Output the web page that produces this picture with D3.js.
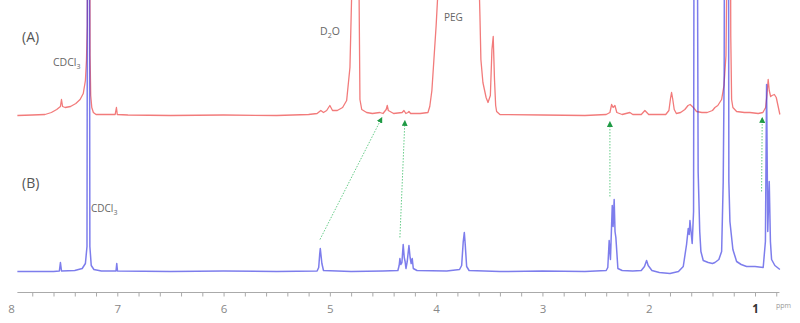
<!DOCTYPE html>
<html lang="en">
<head>
<meta charset="UTF-8">
<title>NMR</title>
<script src="https://d3js.org/d3.v7.min.js"></script>
<style>
    body { margin: 0; background: #fff; }
    svg { display: block; }
    .lbl { font-family: "Open Sans", sans-serif; fill: #666; }
    .axis text { font-family: "Open Sans", sans-serif; font-size: 11.5px; fill: #888; }
</style>
</head>
<body>
<script>
    // spectrum A (red): [ppm, intensity above baseline]
    var specA = [
        [7.94,0],[7.80,0.5],[7.68,1],[7.62,3],[7.57,6],[7.535,9],[7.525,16],[7.515,9],[7.49,8],
        [7.44,9],[7.39,12],[7.35,16],[7.32,22],[7.30,35],[7.29,55],[7.282,90],[7.276,400],
        [7.262,400],[7.256,60],[7.25,20],[7.24,8],[7.225,3],[7.20,1],[7.02,1],[7.008,8],[7.0,1],
        [6.90,0.5],[6.50,0],[6.00,0.5],[5.50,0],[5.20,1],[5.12,2],[5.085,5],[5.06,3],[5.03,5],
        [5.00,10],[4.975,5],[4.93,5],[4.88,8],[4.842,15],[4.811,48],[4.795,120],[4.78,400],
        [4.742,400],[4.725,120],[4.717,16],[4.70,6],[4.654,3],[4.60,2],[4.53,3],[4.50,2],
        [4.47,6],[4.46,10],[4.45,5],[4.40,2],[4.32,3],[4.303,5],[4.285,2],[4.265,3],[4.256,4],
        [4.24,2],[4.15,2],[4.077,3],[4.06,9],[4.04,25],[4.021,56],[4.00,90],[3.98,130],
        [3.94,300],[3.80,400],[3.65,300],[3.60,150],[3.588,100],[3.579,56],[3.56,33],[3.53,18],
        [3.512,13],[3.49,20],[3.475,66],[3.463,79],[3.451,36],[3.44,10],[3.431,4],[3.40,1],
        [3.00,0.5],[2.60,0],[2.40,1],[2.365,3],[2.349,11],[2.335,8],[2.318,10],[2.30,3],[2.25,1],
        [2.177,3],[2.15,1],[2.07,1],[2.036,5],[2.00,1],[1.84,1],[1.81,5],[1.795,17],[1.785,23],
        [1.775,17],[1.76,6],[1.74,2],[1.70,3],[1.66,6],[1.63,10],[1.61,11],[1.58,8],[1.55,4],
        [1.50,3],[1.45,3],[1.40,5],[1.377,8],[1.35,10],[1.314,16],[1.292,30],[1.273,60],
        [1.264,150],[1.255,400],[1.236,400],[1.228,80],[1.22,16],[1.208,8],[1.173,4],[1.10,3],
        [1.048,3],[0.97,2],[0.926,3],[0.90,8],[0.888,20],[0.876,36],[0.866,25],[0.853,19],
        [0.84,20],[0.818,21],[0.80,18],[0.78,8],[0.766,1]
    ];

    // spectrum B (blue)
    var specB = [
        [7.94,0],[7.60,0],[7.545,0.5],[7.535,9],[7.525,0.5],[7.40,1],[7.33,3],[7.30,8],[7.285,25],
        [7.277,600],[7.265,600],[7.258,25],[7.245,6],[7.22,2],[7.15,0.5],[7.012,0.5],[7.005,8],
        [6.998,0.5],[6.5,0],[6.0,0.5],[5.5,0],[5.12,0.5],[5.105,4],[5.095,18],[5.09,23],
        [5.083,16],[5.075,8],[5.06,1],[4.8,0],[4.5,0.5],[4.36,1],[4.348,6],[4.341,13],[4.333,7],
        [4.322,9],[4.31,27],[4.30,14],[4.292,10],[4.284,3],[4.272,10],[4.256,26],[4.245,14],
        [4.235,8],[4.225,13],[4.215,3],[4.18,1],[3.90,0.5],[3.78,2],[3.76,6],[3.745,30],
        [3.735,39],[3.727,28],[3.713,5],[3.69,1],[3.4,0],[3.0,0.5],[2.6,0],[2.40,1],[2.385,4],
        [2.372,31],[2.36,12],[2.343,66],[2.335,45],[2.325,72],[2.317,40],[2.309,34],[2.29,3],
        [2.25,1],[2.15,0.5],[2.07,1],[2.04,5],[2.02,11],[2.005,6],[1.97,1],[1.90,-1],[1.80,-2],
        [1.72,0],[1.675,5],[1.644,27],[1.628,43],[1.619,37],[1.612,51],[1.591,28],[1.578,60],
        [1.570,600],[1.550,600],[1.535,100],[1.52,40],[1.509,20],[1.487,11],[1.44,9],[1.40,8],
        [1.377,9],[1.34,12],[1.314,20],[1.299,90],[1.29,200],[1.283,600],[1.252,600],[1.246,90],
        [1.236,50],[1.208,22],[1.173,10],[1.13,7],[1.079,5],[1.00,5],[0.923,4],[0.902,30],
        [0.891,187],[0.880,40],[0.866,90],[0.855,30],[0.844,12],[0.813,6],[0.766,2]
    ];

    // arrows: [ppm in B, intensity in B, ppm in A, intensity in A]
    var arrows = [
        [5.093, 32, 4.51, -2],
        [4.341, 34, 4.294, -5],
        [2.365, 75, 2.365, -6],
        [0.938, 80, 0.932, -2]
    ];

    var tickLabels = [8, 7, 6, 5, 4, 3, 2, 1];

    var width = 800, height = 323;

    var svg = d3.select('body').append('svg')
        .attr('width', width)
        .attr('height', height);

    var x = d3.scaleLinear().domain([8, 1]).range([11, 755]);
    var yA = d3.scaleLinear().domain([0, 116]).range([115.5, -0.5]);
    var yB = d3.scaleLinear().domain([0, 272]).range([271.5, -0.5]);

    var lineA = d3.line().x(function (d) { return x(d[0]); }).y(function (d) { return yA(d[1]); });
    var lineB = d3.line().x(function (d) { return x(d[0]); }).y(function (d) { return yB(d[1]); });

    svg.append('path')
        .attr('d', lineA(specA))
        .attr('fill', 'none')
        .attr('stroke', '#f27b7b')
        .attr('stroke-width', 1.3)
        .attr('stroke-linejoin', 'round');

    svg.append('path')
        .attr('d', lineB(specB))
        .attr('fill', 'none')
        .attr('stroke', '#2d2de0')
        .attr('stroke-opacity', 0.62)
        .attr('stroke-width', 1.5)
        .attr('stroke-linejoin', 'round');

    // arrows
    svg.append('defs').append('marker')
        .attr('id', 'head')
        .attr('viewBox', '0 0 10 10')
        .attr('refX', 9)
        .attr('refY', 5)
        .attr('markerWidth', 6)
        .attr('markerHeight', 6)
        .attr('markerUnits', 'userSpaceOnUse')
        .attr('orient', 'auto')
        .append('path')
        .attr('d', 'M0,0L10,5L0,10Z')
        .attr('fill', '#1f9a45');

    svg.selectAll('.arrow')
        .data(arrows)
        .enter()
        .append('line')
        .attr('class', 'arrow')
        .attr('x1', function (d) { return x(d[0]); })
        .attr('y1', function (d) { return yB(d[1]); })
        .attr('x2', function (d) { return x(d[2]); })
        .attr('y2', function (d) { return yA(d[3]); })
        .attr('stroke', '#66cc88')
        .attr('stroke-width', 1)
        .attr('stroke-dasharray', '1.5 1.5')
        .attr('marker-end', 'url(#head)');

    // axis
    var axisY = 292.5;
    svg.append('line')
        .attr('x1', x(7.94)).attr('x2', x(0.77))
        .attr('y1', axisY).attr('y2', axisY)
        .attr('stroke', '#aaa');

    var minor = d3.axisBottom(d3.scaleLinear().domain([7.94, 0.77]).range([x(7.94), x(0.77)]))
        .ticks(40)
        .tickSize(4)
        .tickFormat('');
    var gm = svg.append('g')
        .attr('class', 'axis')
        .attr('transform', 'translate(0,' + axisY + ')')
        .call(minor);
    gm.select('.domain').remove();
    gm.selectAll('line').attr('stroke', '#aaa');

    var major = d3.axisBottom(x)
        .tickValues(tickLabels)
        .tickSize(0)
        .tickPadding(12)
        .tickFormat(d3.format('d'));
    var gM = svg.append('g')
        .attr('class', 'axis')
        .attr('transform', 'translate(0,' + axisY + ')')
        .call(major);
    gM.select('.domain').remove();
    gM.selectAll('text').filter(function (d) { return d === 1; })
        .style('fill', '#333').style('font-weight', 'bold');

    svg.append('text').attr('class', 'lbl')
        .attr('x', 776).attr('y', 308).style('font-size', '7px').style('fill', '#999')
        .text('ppm');

    // annotations
    svg.append('text').attr('class', 'lbl').attr('x', 22).attr('y', 42)
        .style('font-size', '14px').style('fill', '#555').text('(A)');
    svg.append('text').attr('class', 'lbl').attr('x', 22).attr('y', 188)
        .style('font-size', '14px').style('fill', '#555').text('(B)');

    var c1 = svg.append('text').attr('class', 'lbl').attr('x', 53).attr('y', 66)
        .style('font-size', '10.5px');
    c1.append('tspan').text('CDCl');
    c1.append('tspan').attr('dy', 3).style('font-size', '7px').text('3');

    var c2 = svg.append('text').attr('class', 'lbl').attr('x', 91).attr('y', 212)
        .style('font-size', '10px');
    c2.append('tspan').text('CDCl');
    c2.append('tspan').attr('dy', 3).style('font-size', '7px').text('3');

    var d2o = svg.append('text').attr('class', 'lbl').attr('x', 320).attr('y', 35)
        .style('font-size', '10.5px');
    d2o.append('tspan').text('D');
    d2o.append('tspan').attr('dy', 3).style('font-size', '7px').text('2');
    d2o.append('tspan').attr('dy', -3).text('O');

    svg.append('text').attr('class', 'lbl').attr('x', 444).attr('y', 21)
        .style('font-size', '10px').text('PEG');
</script>
</body>
</html>
